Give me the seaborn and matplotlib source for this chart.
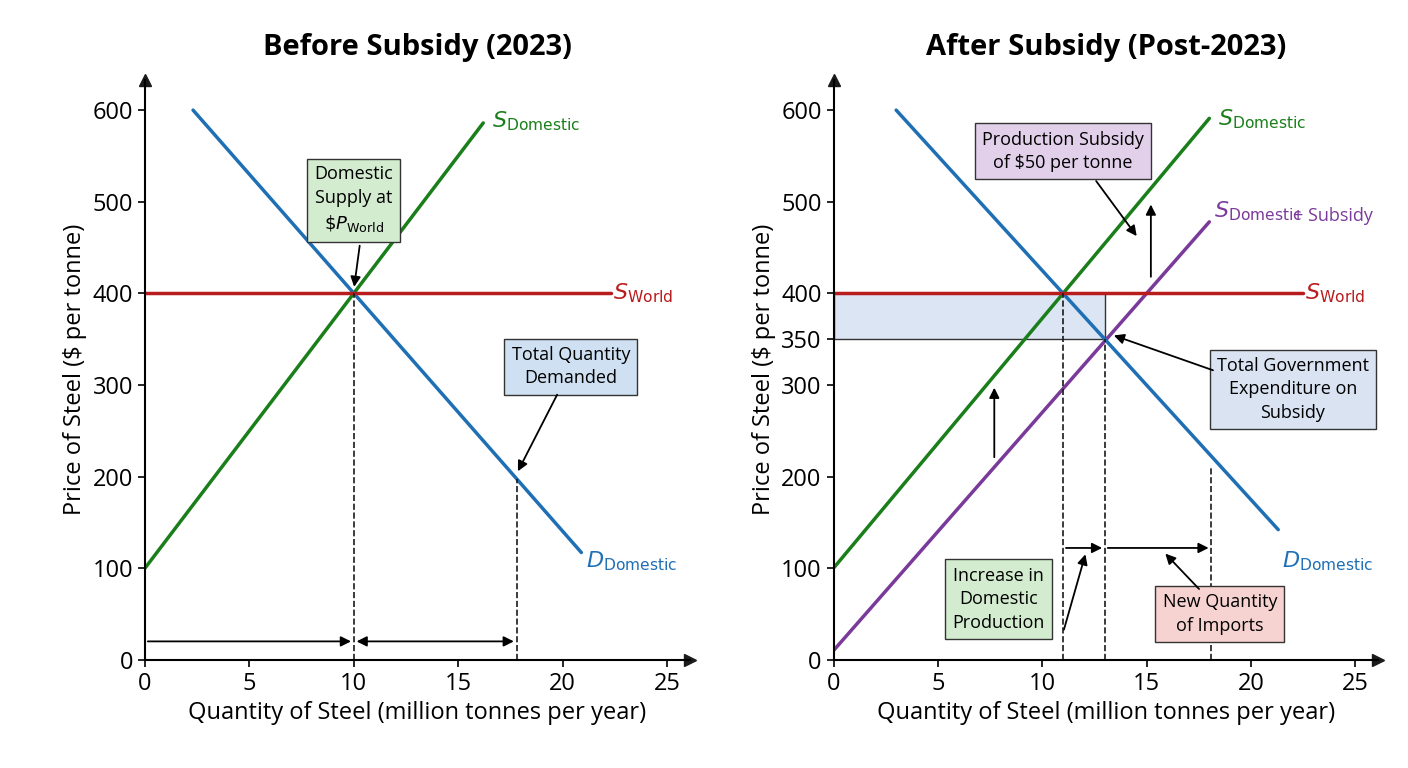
import numpy as np
import matplotlib.pyplot as plt
import seaborn as sns

# --- data ---
# left panel (before subsidy)
supply_before_x = [0, 16.2]
supply_before_y = [100, 586]
demand_before_x = [2.3, 20.9]
demand_before_y = [600, 117]
world_price = 400
q_dom_before = 10
q_dem_before = 17.8
p_dem_before = 197

# right panel (after subsidy)
supply_after_x = [0, 18]
supply_after_y = [100, 591]
subsidy_x = [0, 18]
subsidy_y = [10, 478]
demand_after_x = [3, 21.3]
demand_after_y = [600, 142]
sub_price = 350
q_dom_after = 11
q_sub = 13
q_dem_after = 18.1
p_dem_after = 210

GREEN = '#1a7f1a'
BLUE = '#1f6fb5'
RED = '#b81c1c'
PURPLE = '#7a3a9a'

sns.set_theme(style='white')
plt.rcParams['font.family'] = ['Open Sans', 'DejaVu Sans']
plt.rcParams['mathtext.fontset'] = 'dejavusans'
plt.rcParams['text.color'] = 'black'
plt.rcParams['axes.labelcolor'] = 'black'
plt.rcParams['xtick.color'] = 'black'
plt.rcParams['ytick.color'] = 'black'

fig = plt.figure(figsize=(14.08, 7.68), dpi=100)
ax1 = fig.add_axes([0.103, 0.141, 0.387, 0.755])
ax2 = fig.add_axes([0.592, 0.141, 0.387, 0.755])


def base(ax, title, yticks):
    ax.set_xlim(0, 26.1)
    ax.set_ylim(0, 633)
    for s in ['top', 'right']:
        ax.spines[s].set_visible(False)
    for s in ['left', 'bottom']:
        ax.spines[s].set_color('black')
        ax.spines[s].set_linewidth(1.5)
    ax.plot(1, 0, '>k', transform=ax.transAxes, clip_on=False, ms=8)
    ax.plot(0, 1, '^k', transform=ax.transAxes, clip_on=False, ms=8)
    ax.set_xticks([0, 5, 10, 15, 20, 25])
    ax.set_yticks(yticks)
    ax.tick_params(labelsize=17, length=5, width=1.2, left=True, bottom=True)
    ax.set_xlabel('Quantity of Steel (million tonnes per year)', fontsize=17)
    ax.set_ylabel('Price of Steel ($ per tonne)', fontsize=17)
    ax.set_title(title, fontsize=21, fontweight='bold', pad=18)


def box(ax, x, y, text, fc):
    ax.text(x, y, text, fontsize=13, ha='center', va='center', linespacing=1.4,
            bbox=dict(boxstyle='square,pad=0.4', fc=fc, ec='#333333', lw=1))


def arrow(ax, xy, xytext, style='-|>'):
    ax.annotate('', xy=xy, xytext=xytext,
                arrowprops=dict(arrowstyle=style, color='black', lw=1.3, mutation_scale=15))


# ---- left ----
base(ax1, 'Before Subsidy (2023)', [0, 100, 200, 300, 400, 500, 600])
sns.lineplot(x=supply_before_x, y=supply_before_y, ax=ax1, color=GREEN, lw=2.5)
sns.lineplot(x=demand_before_x, y=demand_before_y, ax=ax1, color=BLUE, lw=2.5)
ax1.axhline(world_price, xmin=0, xmax=22.3 / 26.1, color=RED, lw=2.5)
ax1.plot([q_dom_before] * 2, [0, world_price], 'k--', lw=1.2)
ax1.plot([q_dem_before] * 2, [0, p_dem_before], 'k--', lw=1.2)
arrow(ax1, (q_dom_before, 20), (0, 20))
arrow(ax1, (q_dem_before, 20), (q_dom_before, 20), '<|-|>')
ax1.text(16.6, 588, r'$S_{\rm Domestic}$', color=GREEN, fontsize=16, va='center')
ax1.text(22.4, 400, r'$S_{\rm World}$', color=RED, fontsize=16, va='center')
ax1.text(21.1, 108, r'$D_{\rm Domestic}$', color=BLUE, fontsize=16, va='center')
box(ax1, 10, 502, 'Domestic\nSupply at\n$\\$P_{\\rm World}$', '#d3ecd0')
arrow(ax1, (10, 404), (10.3, 455))
box(ax1, 20.4, 320, 'Total Quantity\nDemanded', '#cfe0f2')
arrow(ax1, (17.8, 203), (19.8, 292))

# ---- right ----
base(ax2, 'After Subsidy (Post-2023)', [0, 100, 200, 300, 350, 400, 500, 600])
ax2.fill_between([0, q_sub], sub_price, world_price, color='#dbe5f3', ec='#333333', lw=1, zorder=1)
sns.lineplot(x=supply_after_x, y=supply_after_y, ax=ax2, color=GREEN, lw=2.5)
sns.lineplot(x=subsidy_x, y=subsidy_y, ax=ax2, color=PURPLE, lw=2.5)
sns.lineplot(x=demand_after_x, y=demand_after_y, ax=ax2, color=BLUE, lw=2.5)
ax2.axhline(world_price, xmin=0, xmax=22.5 / 26.1, color=RED, lw=2.5)
ax2.plot([q_dom_after] * 2, [0, world_price], 'k--', lw=1.2)
ax2.plot([q_sub] * 2, [0, sub_price], 'k--', lw=1.2)
ax2.plot([q_dem_after] * 2, [0, p_dem_after], 'k--', lw=1.2)
arrow(ax2, (q_sub, 122), (q_dom_after, 122))
arrow(ax2, (q_dem_after, 122), (q_sub, 122))
arrow(ax2, (15.2, 500), (15.2, 415))
arrow(ax2, (7.7, 300), (7.7, 218))
ax2.text(18.4, 590, r'$S_{\rm Domestic}$', color=GREEN, fontsize=16, va='center')
ax2.text(18.2, 490, r'$S_{\rm Domestic}$', color=PURPLE, fontsize=16, va='center')
ax2.text(22.0, 484, '+ Subsidy', color=PURPLE, fontsize=13, va='center')
ax2.text(22.6, 400, r'$S_{\rm World}$', color=RED, fontsize=16, va='center')
ax2.text(21.5, 108, r'$D_{\rm Domestic}$', color=BLUE, fontsize=16, va='center')
box(ax2, 11.0, 555, 'Production Subsidy\nof $50 per tonne', '#e2d0ea')
arrow(ax2, (14.6, 460), (12.5, 525))
box(ax2, 22.0, 295, 'Total Government\nExpenditure on\nSubsidy', '#d9e3f1')
arrow(ax2, (13.3, 355), (18.3, 315))
box(ax2, 7.9, 66, 'Increase in\nDomestic\nProduction', '#d3ecd0')
arrow(ax2, (12.1, 118), (11.0, 30), '-|>')
box(ax2, 18.5, 50, 'New Quantity\nof Imports', '#f6d2d0')
arrow(ax2, (15.8, 118), (17.6, 75), '-|>')

fig.savefig('out.png', dpi=100)
